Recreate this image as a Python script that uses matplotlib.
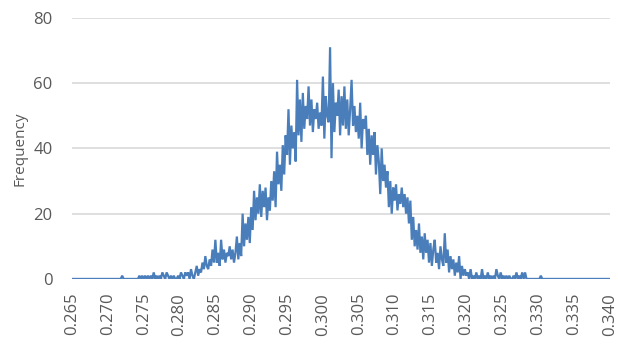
import numpy as np
import matplotlib.pyplot as plt

plt.rcParams['font.family'] = ['Open Sans', 'DejaVu Sans']

# bin width 0.0002 from 0.265 to 0.340
bin_start = 0.265
bin_width = 0.0002

left_zeros = [0] * 35
counts = [
    1, 0, 0, 0, 0,   # 0.272
    0, 0, 0, 0, 0,
    0, 0, 1, 0, 1,
    0, 1, 0, 1, 0,   # 0.275
    1, 0, 2, 0, 1,
    0, 1, 0, 2, 1,
    0, 2, 1, 0, 1,
    0, 1, 0, 0, 1,
    0, 2, 1, 0, 2,   # 0.280
    1, 2, 0, 3, 1,
    0, 2, 4, 1, 3,
    2, 5, 3, 7, 4,
    3, 6, 4, 9, 5,
    12, 5, 8, 4, 12,  # 0.285
    6, 9, 5, 8, 7,
    10, 6, 9, 5, 8,
    13, 6, 11, 7, 20,
    10, 17, 12, 19, 11,
    22, 15, 27, 18, 25,  # 0.290
    20, 29, 19, 27, 22,
    28, 18, 25, 21, 30,
    24, 33, 22, 39, 29,
    35, 27, 41, 32, 44,
    38, 52, 35, 47, 40,  # 0.295
    45, 36, 61, 44, 55,
    42, 57, 46, 53, 49,
    59, 47, 55, 45, 52,
    49, 54, 46, 51, 47,
    62, 43, 56, 50, 48,  # 0.300
    71, 37, 60, 45, 54,
    50, 58, 44, 56, 47,
    59, 46, 55, 44, 52,
    61, 47, 53, 45, 50,
    43, 54, 40, 49, 46,  # 0.305
    50, 38, 46, 35, 44,
    38, 45, 32, 41, 36,
    26, 40, 30, 35, 28,
    33, 22, 30, 20, 28,
    24, 29, 21, 26, 23,  # 0.310
    28, 22, 26, 20, 25,
    17, 24, 12, 19, 10,
    15, 9, 17, 8, 13,
    6, 14, 8, 12, 5,
    11, 4, 9, 12, 5,     # 0.315
    8, 3, 10, 6, 4,
    14, 5, 9, 2, 7,
    3, 6, 1, 5, 2,
    7, 0, 4, 1, 3,
    1, 2, 0, 3, 0,       # 0.320
    1, 0, 2, 0, 1,
    0, 3, 0, 1, 0,
    2, 0, 1, 0, 1,
    0, 3, 1, 0, 2,
    0, 1, 0, 1, 0,       # 0.325
    1, 0, 0, 1, 0,
    2, 0, 1, 0, 2,
    0, 2, 0, 0, 0,
    0, 0, 0, 0, 0,
    0, 0, 1, 0, 0,       # 0.330
]
right_zeros = [0] * 46

freq = np.array(left_zeros + counts + right_zeros)
x = bin_start + bin_width * np.arange(len(freq))

tick_labels = ['0.265', '0.270', '0.275', '0.280', '0.285', '0.290', '0.295', '0.300',
               '0.305', '0.310', '0.315', '0.320', '0.325', '0.330', '0.335', '0.340']

fig = plt.figure(figsize=(6.18, 3.5), dpi=100)
ax = fig.add_axes([0.1165, 0.203, 0.87, 0.746])

ax.plot(x, freq, color='#4a7ebb', lw=1.6, solid_joinstyle='miter')

ax.set_xlim(0.265, 0.340)
ax.set_ylim(0, 80)
ax.set_yticks([0, 20, 40, 60, 80])
ax.set_xticks([float(t) for t in tick_labels])
ax.set_xticklabels(tick_labels, rotation=90)
ax.grid(axis='y', color='#d9d9d9', lw=1.2)
ax.set_axisbelow(True)
for s in ax.spines.values():
    s.set_visible(False)
ax.tick_params(length=0, labelsize=12, colors='#595959')
ax.tick_params(axis='y', pad=14)
ax.tick_params(axis='x', pad=10)
ax.set_ylabel('Frequency', fontsize=11, color='#595959', labelpad=4)

fig.savefig('out.png', dpi=100)
